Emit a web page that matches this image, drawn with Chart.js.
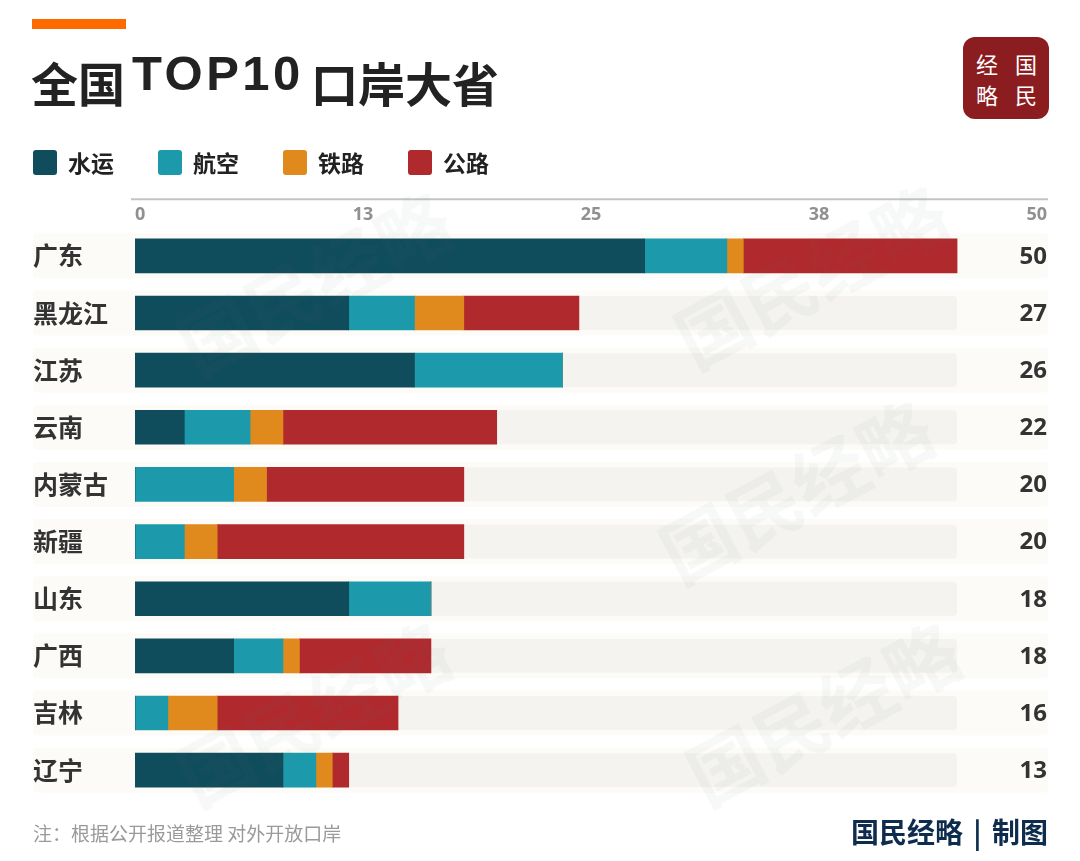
<!DOCTYPE html>
<html lang="zh-CN">
<head>
<meta charset="utf-8">
<title>全国TOP10口岸大省</title>
<script src="https://cdn.jsdelivr.net/npm/chart.js@4.4.0/dist/chart.umd.min.js"></script>
<style>
  html, body { margin: 0; padding: 0; background: #fff; }
  body {
    width: 1080px; height: 861px; position: relative; overflow: hidden;
    font-family: "Noto Sans CJK SC", "Noto Sans", sans-serif;
  }
  #wrap { position: absolute; left: 0; top: 0; width: 1080px; height: 861px; }
  .topbar { position: absolute; left: 32px; top: 19px; width: 94px; height: 10px; background: #ff6a00; }
  .title { position: absolute; color: #222; font-weight: 700; white-space: nowrap; }
  .t-cn { font-size: 47px; line-height: 47px; top: 58px; }
  .t-en { font-family: "Liberation Sans", Arial, sans-serif; font-size: 49px; line-height: 49px;
          top: 49px; left: 132px; letter-spacing: 3.5px; }
  .legend { position: absolute; left: 33px; top: 150px; display: flex; gap: 44px; }
  .legend .item { display: flex; align-items: center; height: 25px; }
  .legend .box { width: 24px; height: 25px; border-radius: 3px; margin-right: 11px; }
  .legend .txt { font-size: 23px; font-weight: 700; line-height: 25px; color: #222; }
  .logo { position: absolute; left: 963px; top: 37px; width: 86px; height: 82px;
          background: #8b1d21; border-radius: 12px; color: #fff; }
  .logo span { position: absolute; font-size: 22px; line-height: 22px; }
  .note { position: absolute; left: 33px; top: 821px; font-size: 19px; line-height: 24px; color: #9a9a9a; }
  .credit { position: absolute; right: 32px; top: 814px; font-size: 28px; line-height: 34px;
            font-weight: 700; color: #0e2c4d; white-space: nowrap; word-spacing: 4px; }
  .wm { position: absolute; font-size: 74px; font-weight: 700; color: rgba(90, 110, 120, 0.05);
        white-space: nowrap; transform: translate(-50%, -50%) rotate(-28deg); pointer-events: none; }
</style>
</head>
<body>
<div id="wrap"><canvas id="chart"></canvas></div>

<div class="topbar"></div>
<div class="title t-cn" style="left:31px">全国</div>
<div class="title t-en">TOP10</div>
<div class="title t-cn" style="left:311px">口岸大省</div>

<div class="legend" id="legend"></div>

<div class="logo">
  <span style="left:13px;top:15px">经</span>
  <span style="left:52px;top:15px">国</span>
  <span style="left:13px;top:46px">略</span>
  <span style="left:52px;top:46px">民</span>
</div>

<div class="note">注：根据公开报道整理 对外开放口岸</div>
<div class="credit">国民经略 | 制图</div>

<div class="wm" style="left:313px;top:280px">国民经略</div>
<div class="wm" style="left:810px;top:273px">国民经略</div>
<div class="wm" style="left:795px;top:488px">国民经略</div>
<div class="wm" style="left:312px;top:710px">国民经略</div>
<div class="wm" style="left:822px;top:710px">国民经略</div>

<script>
// ---- data ----
const provinces = ["广东", "黑龙江", "江苏", "云南", "内蒙古", "新疆", "山东", "广西", "吉林", "辽宁"];
const water = [31, 13, 17, 3, 0, 0, 13, 6, 0, 9];   // 水运
const air   = [5, 4, 9, 4, 6, 3, 5, 3, 2, 2];       // 航空
const rail  = [1, 3, 0, 2, 2, 2, 0, 1, 3, 1];       // 铁路
const road  = [13, 7, 0, 13, 12, 15, 0, 8, 11, 1];  // 公路
const totals = [50, 27, 26, 22, 20, 20, 18, 18, 16, 13];
const trackValue = 50;

const tickValues = [0, 12.5, 25, 37.5, 50];
const tickLabels = ["0", "13", "25", "38", "50"];

const seriesNames  = ["水运", "航空", "铁路", "公路"];
const seriesData   = [water, air, rail, road];
const seriesColors = ["#0f4c5c", "#1c9aab", "#e08a1e", "#b0292d"];

// bar scale runs a bit past the tick axis: 50 lands at 957px, tick "50" at 1047px
const barAxisMax = 55.47;

Chart.defaults.font.family = "'Noto Sans CJK SC', 'Noto Sans', sans-serif";

// ---- html legend ----
const legendEl = document.getElementById("legend");
seriesNames.forEach((name, i) => {
  const item = document.createElement("div");
  item.className = "item";
  item.innerHTML = '<span class="box" style="background:' + seriesColors[i] + '"></span><span class="txt">' + name + "</span>";
  legendEl.appendChild(item);
});

// ---- plugins ----
// faint full-width band behind each row (drawn before the axes so labels stay on top)
const rowBands = {
  id: "rowBands",
  beforeDraw(chart) {
    const { ctx, chartArea, scales: { y } } = chart;
    ctx.save();
    ctx.fillStyle = "#fcfbf7";
    provinces.forEach((p, i) => {
      const cy = y.getPixelForValue(i);
      ctx.beginPath();
      ctx.roundRect(y.left, cy - 22.5, chartArea.right + 1 - y.left, 45, 4);
      ctx.fill();
    });
    ctx.restore();
  }
};

const topRule = {
  id: "topRule",
  afterDraw(chart) {
    const { ctx, chartArea } = chart;
    ctx.save();
    ctx.strokeStyle = "#c4c4c4";
    ctx.lineWidth = 2;
    ctx.beginPath();
    ctx.moveTo(chartArea.left - 4, chartArea.top - 28);
    ctx.lineTo(chartArea.right + 1, chartArea.top - 28);
    ctx.stroke();
    ctx.restore();
  }
};

const totalLabels = {
  id: "totalLabels",
  afterDatasetsDraw(chart) {
    const { ctx, chartArea, scales: { y } } = chart;
    ctx.save();
    ctx.font = "700 24px 'Open Sans', 'Noto Sans', sans-serif";
    ctx.fillStyle = "#333";
    ctx.textAlign = "right";
    ctx.textBaseline = "middle";
    totals.forEach((t, i) => {
      ctx.fillText(String(t), chartArea.right, y.getPixelForValue(i) + 1);
    });
    ctx.restore();
  }
};

// ---- chart ----
const datasets = seriesNames.map((name, i) => ({
  label: name,
  data: seriesData[i],
  backgroundColor: seriesColors[i],
  barThickness: 34,
  borderWidth: 0,
  xAxisID: "x",
  order: 0
}));

datasets.push({
  label: "track",
  data: provinces.map(() => trackValue),
  backgroundColor: "#f4f3ef",
  borderRadius: 4,
  borderSkipped: false,
  grouped: false,
  categoryPercentage: 1,
  barPercentage: 0.593,
  xAxisID: "xTrack",
  order: 10
});

new Chart(document.getElementById("chart"), {
  type: "bar",
  data: { labels: provinces, datasets },
  options: {
    indexAxis: "y",
    responsive: true,
    maintainAspectRatio: false,
    animation: false,
    layout: { padding: { top: 202.9, bottom: 62.3, left: 33, right: 33 } },
    plugins: {
      legend: { display: false },
      tooltip: { enabled: false }
    },
    scales: {
      y: {
        stacked: true,
        grid: { display: false },
        border: { display: false },
        ticks: {
          crossAlign: "far",
          color: "#333",
          font: { size: 25, weight: "700" }
        },
        afterFit(scale) { scale.width = 102; }
      },
      x: { stacked: true, min: 0, max: barAxisMax, display: false },
      xTrack: { stacked: false, min: 0, max: barAxisMax, display: false },
      x2: {
        position: "top",
        min: 0,
        max: 50,
        grid: { display: false, drawTicks: false },
        border: { display: false },
        afterBuildTicks(scale) { scale.ticks = tickValues.map(v => ({ value: v })); },
        ticks: {
          align: "inner",
          padding: 2,
          color: "#909090",
          font: { family: "'Open Sans', 'Noto Sans', sans-serif", size: 18, weight: "700", lineHeight: 1.133 },
          callback: (v, i) => tickLabels[i]
        }
      }
    }
  },
  plugins: [rowBands, topRule, totalLabels]
});
</script>
</body>
</html>
